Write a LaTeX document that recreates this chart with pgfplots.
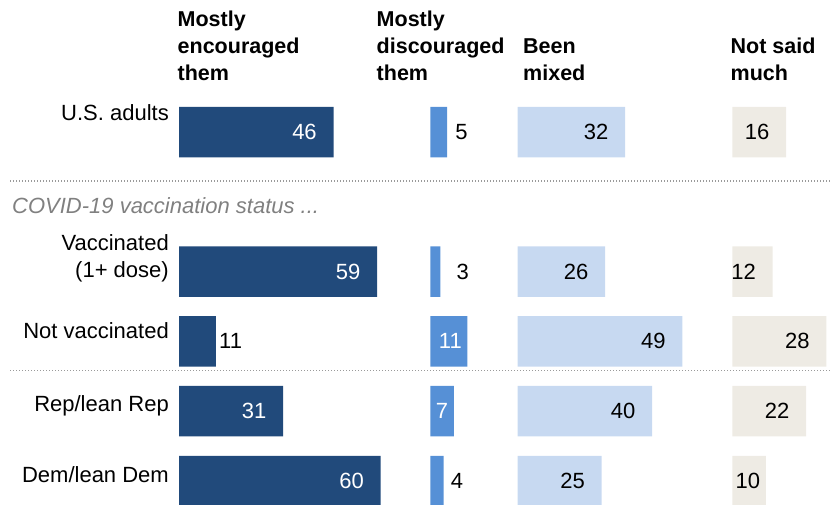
\documentclass[border=0pt]{standalone}
\usepackage{pgfplots}
\pgfplotsset{compat=1.18}
\usepackage{pgfplotstable}
\usepackage{fontspec}
\setmainfont{Liberation Sans}

\definecolor{darkblue}{HTML}{214A7B}
\definecolor{midblue}{HTML}{5690D6}
\definecolor{lightblue}{HTML}{C7D9F1}
\definecolor{beige}{HTML}{EEEBE4}
\definecolor{dotgray}{HTML}{9A9A9A}

% rows: 0 = U.S. adults, 2 = Vaccinated, 3 = Not vaccinated, 4 = Rep, 5 = Dem
% dx = shift of the label's left edge from the bar end (pt), w = 100 for white text
\pgfplotstableread{
y v dx w
0 46 -41.5 100
2 59 -41.5 100
3 11 3 0
4 31 -41.5 100
5 60 -41.5 100
}\encouraged
\pgfplotstableread{
y v dx w
0 5 8 0
2 3 16 0
3 11 -28.5 100
4 7 -18.2 100
5 4 7 0
}\discouraged
\pgfplotstableread{
y v dx w
0 32 -41.5 0
2 26 -41.5 0
3 49 -41.5 0
4 40 -41.5 0
5 25 -41.5 0
}\mixed
\pgfplotstableread{
y v dx w
0 16 -41.5 0
2 12 -41.5 0
3 28 -41.5 0
4 22 -41.5 0
5 10 -30.5 0
}\notmuch

\pgfplotsset{
  colaxis/.style={x=3.36pt, y=69.8pt, y dir=reverse,
    xmin=0, xmax=70, ymin=-0.5, ymax=5.5,
    hide axis, clip=false, anchor=north west},
  colbars/.style={xbar, bar width=50.5pt, bar shift=0pt, draw=none, fill=#1,
    point meta=explicit symbolic, nodes near coords,
    visualization depends on={\thisrow{dx} \as \dx},
    visualization depends on={\thisrow{w} \as \w},
    every node near coord/.append style={anchor=west, xshift=\dx pt,
      text=white!\w!black, inner sep=0pt, font=\fontsize{22pt}{26pt}\selectfont}},
}

\begin{document}
\begin{tikzpicture}[font=\fontsize{22pt}{26pt}\selectfont]
\useasboundingbox (0,0) rectangle (832pt,-505pt);

% column headers
\begin{scope}[every node/.style={anchor=base west, inner sep=0pt,
    font=\fontsize{21.5pt}{26pt}\selectfont\bfseries}]
  \node at (177.5pt,-27pt) {Mostly};
  \node at (177.5pt,-54pt) {encouraged};
  \node at (177.5pt,-81pt) {them};
  \node at (376.5pt,-27pt) {Mostly};
  \node at (376.5pt,-54pt) {discouraged};
  \node at (376.5pt,-81pt) {them};
  \node at (523pt,-54pt) {Been};
  \node at (523pt,-81pt) {mixed};
  \node at (730.5pt,-54pt) {Not said};
  \node at (730.5pt,-81pt) {much};
\end{scope}

% row labels
\begin{scope}[every node/.style={anchor=base east, inner sep=0pt}]
  \node at (169pt,-121pt) {U.S. adults};
  \node at (169pt,-250pt) {Vaccinated};
  \node at (169pt,-277pt) {(1+ dose)};
  \node at (169pt,-338pt) {Not vaccinated};
  \node at (169pt,-411pt) {Rep/lean Rep};
  \node at (169pt,-482pt) {Dem/lean Dem};
\end{scope}
\node[anchor=base west, inner sep=0pt, text=gray, font=\fontsize{22pt}{26pt}\selectfont\itshape]
  at (12pt,-213pt) {COVID-19 vaccination status ...};

% dotted separators
\draw[dotgray, line width=1.4pt, dash pattern=on 1.4pt off 1.6pt] (10pt,-181pt) -- (832pt,-181pt);
\draw[dotgray, line width=1.4pt, dash pattern=on 1.4pt off 1.6pt] (10pt,-370.5pt) -- (832pt,-370.5pt);

\begin{axis}[colaxis, at={(179pt,-97.1pt)}]
  \addplot[colbars=darkblue] table[x=v, y=y, meta=v] {\encouraged};
\end{axis}
\begin{axis}[colaxis, at={(430.3pt,-97.1pt)}]
  \addplot[colbars=midblue] table[x=v, y=y, meta=v] {\discouraged};
\end{axis}
\begin{axis}[colaxis, at={(517.7pt,-97.1pt)}]
  \addplot[colbars=lightblue] table[x=v, y=y, meta=v] {\mixed};
\end{axis}
\begin{axis}[colaxis, at={(732.3pt,-97.1pt)}]
  \addplot[colbars=beige] table[x=v, y=y, meta=v] {\notmuch};
\end{axis}
\end{tikzpicture}
\end{document}
